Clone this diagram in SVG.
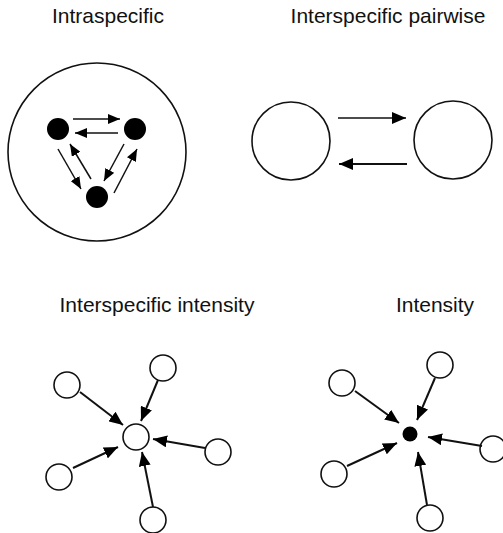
<svg xmlns="http://www.w3.org/2000/svg" width="503" height="533" viewBox="0 0 503 533">
<style>
text{font-family:"Liberation Sans",Arial,sans-serif;font-size:21px;fill:#111;text-anchor:middle}
.o{fill:#fff;stroke:#111;stroke-width:1.6}
.f{fill:#000}
.a{stroke:#111;stroke-width:1.5;fill:none}
.b{stroke:#111;stroke-width:2;fill:none}
</style>
<defs>
<marker id="hs" markerUnits="userSpaceOnUse" markerWidth="12" markerHeight="10" refX="12" refY="5" orient="auto"><path d="M0,0 L12,5 L0,10 z" fill="#000"/></marker>
<marker id="hl" markerUnits="userSpaceOnUse" markerWidth="14" markerHeight="12" refX="14" refY="6" orient="auto"><path d="M0,0 L14,6 L0,12 z" fill="#000"/></marker>
</defs>
<g id="labels">
<text x="108" y="23">Intraspecific</text>
<text x="388" y="23">Interspecific pairwise</text>
<text x="157" y="312">Interspecific intensity</text>
<text x="435" y="312">Intensity</text>
</g>
<g id="intra">
<circle class="o" cx="97" cy="152" r="89" fill="none"/>
<circle class="f" cx="58" cy="129" r="11"/>
<circle class="f" cx="135" cy="129" r="11"/>
<circle class="f" cx="97" cy="197" r="11"/>
</g>
<g id="pair-left"><circle class="o" cx="291" cy="141" r="39"/></g>
<g id="pair-right"><circle class="o" cx="453" cy="140" r="39"/></g>
<g id="star1">
<circle class="o" cx="136" cy="437" r="13"/>
<circle class="o" cx="67" cy="385" r="13"/>
<circle class="o" cx="163" cy="368" r="13"/>
<circle class="o" cx="218" cy="452" r="13"/>
<circle class="o" cx="59" cy="477" r="13"/>
<circle class="o" cx="153" cy="520" r="13"/>
</g>
<g id="star2">
<circle class="f" cx="410" cy="434" r="7.5"/>
<circle class="o" cx="342" cy="383" r="13"/>
<circle class="o" cx="440" cy="365" r="13"/>
<circle class="o" cx="493" cy="449" r="13"/>
<circle class="o" cx="334" cy="474" r="13"/>
<circle class="o" cx="430" cy="518" r="13"/>
</g>
<g id="connectors">
<line class="a" x1="73" y1="119" x2="120" y2="119" marker-end="url(#hs)"/>
<line class="a" x1="118" y1="133" x2="75" y2="133" marker-end="url(#hs)"/>
<line class="a" x1="58" y1="149" x2="81" y2="189" marker-end="url(#hs)"/>
<line class="a" x1="91" y1="179" x2="70" y2="144" marker-end="url(#hs)"/>
<line class="a" x1="124" y1="144" x2="104" y2="181" marker-end="url(#hs)"/>
<line class="a" x1="114" y1="193" x2="137" y2="149" marker-end="url(#hs)"/>
<line class="a" x1="338" y1="118" x2="406" y2="118" marker-end="url(#hl)"/>
<line class="b" x1="407" y1="164" x2="339" y2="164" marker-end="url(#hl)"/>
<line class="b" x1="80" y1="392" x2="123" y2="425" marker-end="url(#hl)"/>
<line class="b" x1="158" y1="380" x2="141" y2="421" marker-end="url(#hl)"/>
<line class="b" x1="205" y1="448" x2="153" y2="439" marker-end="url(#hl)"/>
<line class="b" x1="73" y1="468" x2="118" y2="447" marker-end="url(#hl)"/>
<line class="b" x1="153" y1="507" x2="142" y2="452" marker-end="url(#hl)"/>
<line class="b" x1="355" y1="391" x2="399" y2="423" marker-end="url(#hl)"/>
<line class="b" x1="435" y1="378" x2="417" y2="420" marker-end="url(#hl)"/>
<line class="b" x1="482" y1="446" x2="428" y2="437" marker-end="url(#hl)"/>
<line class="b" x1="347" y1="466" x2="397" y2="443" marker-end="url(#hl)"/>
<line class="b" x1="427" y1="505" x2="418" y2="452" marker-end="url(#hl)"/>
</g>
</svg>
